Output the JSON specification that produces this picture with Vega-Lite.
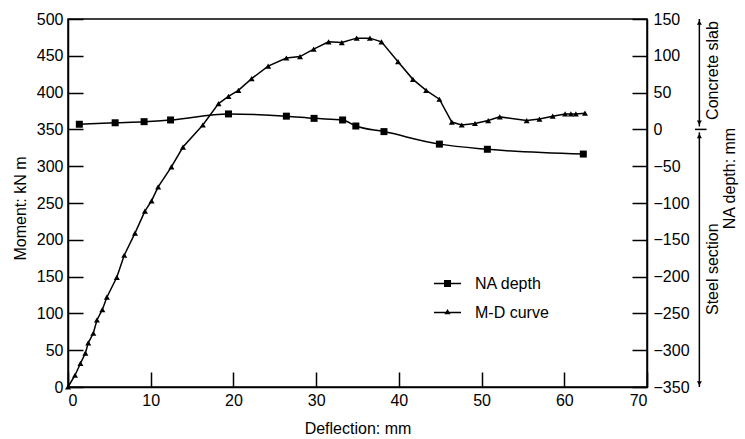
{
  "$schema": "https://vega.github.io/schema/vega-lite/v6.json",
  "width": 579,
  "height": 368,
  "autosize": {"type": "none"},
  "padding": {"left": 68, "top": 19, "right": 98, "bottom": 52},
  "background": "white",
  "config": {
    "font": "Liberation Sans",
    "view": {"stroke": "black", "strokeWidth": 1.5},
    "axis": {
      "labelFont": "Liberation Sans", "labelFontSize": 16, "labelColor": "black",
      "titleFont": "Liberation Sans", "titleFontSize": 16, "titleColor": "black", "titleFontWeight": "normal",
      "domainColor": "black", "domainWidth": 1.5, "tickColor": "black", "tickWidth": 1.5,
      "tickSize": -15, "labelPadding": 20, "grid": false, "labelOverlap": false, "labelBound": false
    },
    "legend": {
      "labelFont": "Liberation Sans", "labelFontSize": 16, "labelColor": "black", "labelOffset": 13,
      "symbolSize": 729, "rowPadding": 6, "symbolStrokeWidth": 1.5, "symbolStrokeColor": "black", "symbolFillColor": "black", "symbolOpacity": 1
    },
    "text": {"font": "Liberation Sans"}
  },
  "datasets": {
    "curves": [
      {"series": "M-D curve", "deflection": 0, "value": 0},
      {"series": "M-D curve", "deflection": 0.85, "value": 16},
      {"series": "M-D curve", "deflection": 1.5, "value": 32},
      {"series": "M-D curve", "deflection": 2.1, "value": 46},
      {"series": "M-D curve", "deflection": 2.45, "value": 60},
      {"series": "M-D curve", "deflection": 3.06, "value": 73},
      {"series": "M-D curve", "deflection": 3.5, "value": 91},
      {"series": "M-D curve", "deflection": 4.15, "value": 105},
      {"series": "M-D curve", "deflection": 4.7, "value": 122},
      {"series": "M-D curve", "deflection": 5.9, "value": 149},
      {"series": "M-D curve", "deflection": 6.8, "value": 179},
      {"series": "M-D curve", "deflection": 8.1, "value": 209},
      {"series": "M-D curve", "deflection": 9.3, "value": 239},
      {"series": "M-D curve", "deflection": 10.1, "value": 253},
      {"series": "M-D curve", "deflection": 10.9, "value": 272},
      {"series": "M-D curve", "deflection": 12.5, "value": 299},
      {"series": "M-D curve", "deflection": 13.9, "value": 326},
      {"series": "M-D curve", "deflection": 16.3, "value": 356},
      {"series": "M-D curve", "deflection": 18.2, "value": 385},
      {"series": "M-D curve", "deflection": 19.4, "value": 395},
      {"series": "M-D curve", "deflection": 20.6, "value": 403},
      {"series": "M-D curve", "deflection": 22.2, "value": 419},
      {"series": "M-D curve", "deflection": 24.2, "value": 436},
      {"series": "M-D curve", "deflection": 26.4, "value": 447},
      {"series": "M-D curve", "deflection": 28.05, "value": 449},
      {"series": "M-D curve", "deflection": 29.7, "value": 459},
      {"series": "M-D curve", "deflection": 31.5, "value": 469},
      {"series": "M-D curve", "deflection": 33.1, "value": 468},
      {"series": "M-D curve", "deflection": 34.9, "value": 474},
      {"series": "M-D curve", "deflection": 36.5, "value": 474},
      {"series": "M-D curve", "deflection": 37.9, "value": 469},
      {"series": "M-D curve", "deflection": 39.9, "value": 442},
      {"series": "M-D curve", "deflection": 41.7, "value": 418},
      {"series": "M-D curve", "deflection": 43.3, "value": 403},
      {"series": "M-D curve", "deflection": 44.9, "value": 391},
      {"series": "M-D curve", "deflection": 46.4, "value": 360},
      {"series": "M-D curve", "deflection": 47.6, "value": 356},
      {"series": "M-D curve", "deflection": 49.2, "value": 358},
      {"series": "M-D curve", "deflection": 50.8, "value": 362},
      {"series": "M-D curve", "deflection": 52.2, "value": 367},
      {"series": "M-D curve", "deflection": 55.45, "value": 362},
      {"series": "M-D curve", "deflection": 57.0, "value": 364},
      {"series": "M-D curve", "deflection": 58.6, "value": 368},
      {"series": "M-D curve", "deflection": 60.1, "value": 371},
      {"series": "M-D curve", "deflection": 60.8, "value": 371},
      {"series": "M-D curve", "deflection": 61.4, "value": 371},
      {"series": "M-D curve", "deflection": 62.5, "value": 372},
      {"series": "NA depth", "deflection": 1.37, "value": 7},
      {"series": "NA depth", "deflection": 5.7, "value": 9},
      {"series": "NA depth", "deflection": 9.2, "value": 10.5},
      {"series": "NA depth", "deflection": 12.4, "value": 12.8},
      {"series": "NA depth", "deflection": 19.4, "value": 21},
      {"series": "NA depth", "deflection": 26.4, "value": 18},
      {"series": "NA depth", "deflection": 29.75, "value": 15},
      {"series": "NA depth", "deflection": 33.2, "value": 12.8},
      {"series": "NA depth", "deflection": 34.8, "value": 4.6},
      {"series": "NA depth", "deflection": 38.2, "value": -3},
      {"series": "NA depth", "deflection": 44.9, "value": -20},
      {"series": "NA depth", "deflection": 50.7, "value": -27},
      {"series": "NA depth", "deflection": 62.3, "value": -33.5}
    ],
    "annLines": [
      {"deflection": 76.33, "deflection2": 76.33, "value": 4, "value2": 150},
      {"deflection": 76.33, "deflection2": 76.33, "value": -4, "value2": -350},
      {"deflection": 75.8, "deflection2": 77.2, "value": 0, "value2": 0}
    ],
    "annHeads": [
      {"dir": "up", "deflection": 76.33, "value": 145},
      {"dir": "down", "deflection": 76.33, "value": -345},
      {"dir": "down", "deflection": 76.33, "value": 9},
      {"dir": "up", "deflection": 76.33, "value": -9}
    ],
    "annText": [
      {"label": "Concrete slab", "deflection": 78.0, "value": 80},
      {"label": "Steel section", "deflection": 78.0, "value": -190}
    ]
  },
  "layer": [
    {
      "data": {"name": "curves"},
      "transform": [{"filter": "datum.series === 'M-D curve'"}],
      "encoding": {
        "x": {"field": "deflection", "type": "quantitative",
          "scale": {"domain": [0, 70], "nice": false},
          "axis": {"values": [0, 10, 20, 30, 40, 50, 60, 70], "labelOverlap": false, "title": "Deflection: mm", "titleY": 41, "titleBaseline": "middle"}},
        "y": {"field": "value", "type": "quantitative",
          "scale": {"domain": [0, 500], "nice": false},
          "axis": {"orient": "left", "values": [0, 50, 100, 150, 200, 250, 300, 350, 400, 450, 500], "labelOverlap": false, "title": "Moment: kN m", "titleX": -48, "titleY": 189, "titleBaseline": "middle"}}
      },
      "layer": [
        {"mark": {"type": "line", "color": "black", "strokeWidth": 1.5}},
        {"mark": {"type": "point", "filled": true, "color": "black", "opacity": 1, "size": 36, "shape": "triangle-up"}},
        {"mark": {"type": "point", "filled": true, "fill": "black", "stroke": "black", "strokeWidth": 1.5, "opacity": 0},
          "encoding": {
            "shape": {"field": "series", "type": "nominal",
              "scale": {"domain": ["NA depth", "M-D curve"], "range": ["M-1,-0.055H1V0.055H-1ZM-0.26,-0.26H0.26V0.26H-0.26Z", "M-1,-0.055H1V0.055H-1ZM0,-0.26L0.23,0.13H-0.23Z"]},
              "legend": {"orient": "none", "legendX": 365, "legendY": 250, "title": null,
                "symbolStrokeColor": "black", "symbolStrokeWidth": 1.5, "symbolFillColor": "black"}}
          }}
      ]
    },
    {
      "encoding": {
        "x": {"field": "deflection", "type": "quantitative"},
        "y": {"field": "value", "type": "quantitative",
          "scale": {"domain": [-350, 150], "nice": false},
          "axis": {"orient": "right", "values": [-350, -300, -250, -200, -150, -100, -50, 0, 50, 100, 150], "labelOverlap": false, "labelPadding": 21,
            "title": "NA depth: mm", "titleAngle": 270, "titleX": 82, "titleY": 159, "titleBaseline": "middle"}}
      },
      "layer": [
        {
          "data": {"name": "curves"},
          "transform": [{"filter": "datum.series === 'NA depth'"}],
          "layer": [
            {"mark": {"type": "line", "color": "black", "strokeWidth": 1.5, "interpolate": "monotone"}},
            {"mark": {"type": "point", "filled": true, "color": "black", "opacity": 1, "size": 49, "shape": "square"}}
          ]
        },
        {
          "data": {"name": "annLines"},
          "mark": {"type": "rule", "color": "black", "strokeWidth": 1.5},
          "encoding": {
            "x2": {"field": "deflection2"},
            "y2": {"field": "value2"}
          }
        },
        {
          "data": {"name": "annHeads"},
          "transform": [{"filter": "datum.dir === 'up'"}],
          "mark": {"type": "point", "filled": true, "color": "black", "opacity": 1, "size": 25, "shape": "triangle-up"}
        },
        {
          "data": {"name": "annHeads"},
          "transform": [{"filter": "datum.dir === 'down'"}],
          "mark": {"type": "point", "filled": true, "color": "black", "opacity": 1, "size": 25, "shape": "triangle-down"}
        },
        {
          "data": {"name": "annText"},
          "mark": {"type": "text", "angle": 270, "align": "center", "baseline": "middle", "fontSize": 16, "color": "black", "font": "Liberation Sans"},
          "encoding": {
            "text": {"field": "label"}
          }
        }
      ]
    }
  ],
  "resolve": {"scale": {"y": "independent"}}
}
